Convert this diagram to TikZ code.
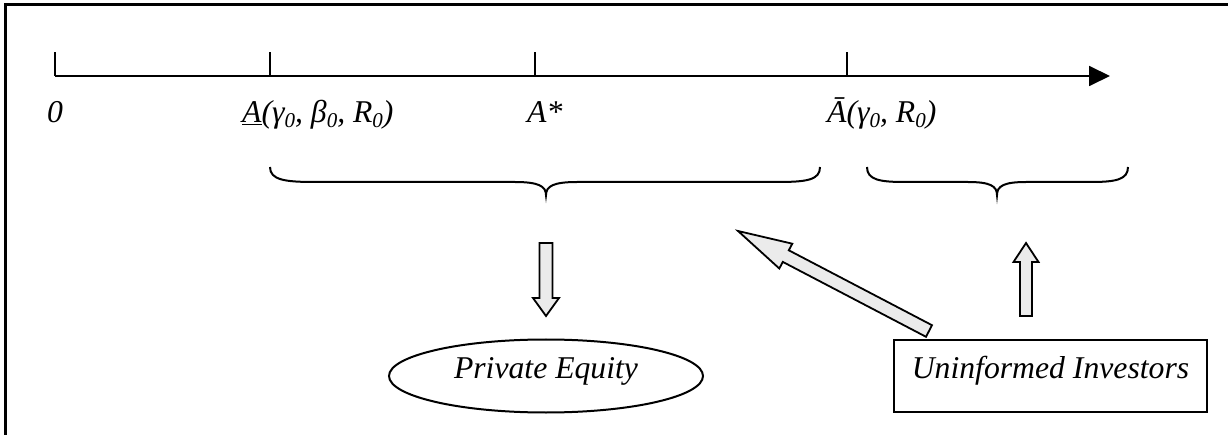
\documentclass[tikz,border=0pt]{standalone}
\usepackage{fontspec}
\setmainfont{Liberation Serif}
\usetikzlibrary{arrows.meta,shapes.geometric}
\newcommand{\mysub}[1]{\raisebox{-0.14em}{\fontsize{21}{21}\selectfont #1}}
\tikzset{
  lbl/.style={font=\fontsize{31.7}{38}\selectfont\itshape, inner sep=0pt},
  frameline/.style={line width=3pt},
  axisline/.style={line width=1.8pt},
  bracepath/.style={line width=2pt},
  blockarrow/.style={draw, line width=1.8pt, fill=gray!16, line join=miter},
  boxtext/.style={lbl, text height=20pt, text depth=16pt, line width=2pt, draw}
}
\begin{document}
\begin{tikzpicture}[x=1pt,y=-1pt]
\useasboundingbox (0,0) rectangle (1228,435);
% frame
\draw[frameline] (5.5,435) -- (5.5,4.5) -- (1228,4.5);
% axis
\coordinate (t0) at (55,76);
\coordinate (t1) at (270,76);
\coordinate (t2) at (535,76);
\coordinate (t3) at (847,76);
\coordinate (tend) at (1110,76);
\draw[axisline, -{Triangle[length=21pt,width=20pt]}] (t0) -- (tend);
\foreach \t in {t0,t1,t2,t3}{
  \draw[axisline] (\t) -- ++(0,-24);
}
% labels
\node[lbl, anchor=base west] (l0) at (47,123) {0};
\node[lbl, anchor=base west] (l1) at (242,123) {\underline{A}(γ\mysub{0}, β\mysub{0}, R\mysub{0})};
\node[lbl, anchor=base west] (l2) at (527,123) {A*};
\node[lbl, anchor=base west] (l3) at (827,123) {Ā(γ\mysub{0}, R\mysub{0})};
% braces
\draw[bracepath] (270,167) .. controls (270,180) and (285,182) .. (315,182) -- (515,182)
  .. controls (538,182) and (546,186) .. (546,195)
  .. controls (546,186) and (554,182) .. (577,182) -- (777,182)
  .. controls (807,182) and (820,180) .. (820,167);
\draw[bracepath] (867,167) .. controls (867,180) and (880,182) .. (905,182) -- (968,182)
  .. controls (990,182) and (997,186) .. (997,195)
  .. controls (997,186) and (1004,182) .. (1026,182) -- (1090,182)
  .. controls (1115,182) and (1128,180) .. (1128,167);
% block arrows
\draw[blockarrow] (539.5,243) -- (552.5,243) -- (552.5,298) -- (559,298) -- (546,316) -- (533,298) -- (539.5,298) -- cycle;
\draw[blockarrow] (1020,316) -- (1032,316) -- (1032,262) -- (1038.5,262) -- (1026,243) -- (1013.5,262) -- (1020,262) -- cycle;
\draw[blockarrow] (738,231) -- (792.3,243.7) -- (788.8,250.3) -- (932.0,325.2) -- (926.0,336.8) -- (782.8,261.9) -- (779.3,268.5) -- cycle;
% nodes
\node[boxtext, ellipse, minimum width=314pt, minimum height=73pt] (pe) at (546,376) {Private Equity};
\node[boxtext, rectangle, minimum width=313pt, minimum height=72pt] (ui) at (1050.5,376) {Uninformed Investors};
\end{tikzpicture}
\end{document}
